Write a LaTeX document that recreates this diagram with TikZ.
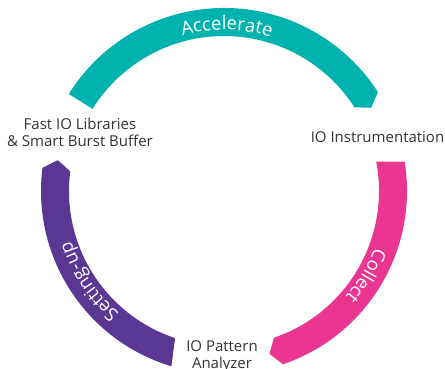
\documentclass[tikz,border=0pt]{standalone}
\usepackage{fontspec}
\setmainfont{Open Sans}
\usetikzlibrary{decorations.text}
\definecolor{tealc}{RGB}{0,178,174}
\definecolor{pinkc}{RGB}{234,54,145}
\definecolor{purplec}{RGB}{91,55,148}
\definecolor{textc}{RGB}{51,51,51}
\newcommand\lblfont{\fontsize{15}{17}\selectfont}
\newcommand\arcfont{\fontsize{18.5}{21}\selectfont}
\begin{document}
\begin{tikzpicture}[x=1pt, y=1pt, font=\lblfont, text=textc, line join=round]
\def\Ro{183} \def\Ri{155} \def\Rm{169} \def\Rt{161} % bán kính
\useasboundingbox (0,0) rectangle (445,-368);
\begin{scope}[shift={(224,-191)}]
% các cung mũi tên
\foreach \so/\si/\e/\c in {148/148/32.7/tealc, 9.2/10.9/-71.2/pinkc, -106.7/-108.4/-187.3/purplec}
  \fill[\c] (\so:\Ro) arc[start angle=\so, end angle=\e, radius=\Ro] -- ({\e-3.2}:\Rm)
    -- (\e:\Ri) arc[start angle=\e, end angle=\si, radius=\Ri] -- cycle;
\path[decorate, decoration={text along path, text align=center, text color=white, text={|\arcfont|Accelerate}}]
  (149:\Rt) arc[start angle=149, end angle=29, radius=\Rt];
\path[decorate, decoration={text along path, text align=center, text color=white, text={|\arcfont|Collect}}]
  (29.2:\Rt) arc[start angle=29.2, end angle=-90.8, radius=\Rt];
\path[decorate, decoration={text along path, text align=center, text color=white, text={|\arcfont|Setting-up}}]
  (-86.2:\Rt) arc[start angle=-86.2, end angle=-206.2, radius=\Rt];
\end{scope}
\node[inner sep=0, align=center] (fastio) at (80,-132.5) {Fast IO Libraries\\\& Smart Burst Buffer};
\node[inner sep=0, anchor=base] (instr) at (377.5,-142.3) {IO Instrumentation};
\node[inner sep=0, align=center, anchor=north] (pattern) at (222,-340) {IO Pattern\\Analyzer};
\end{tikzpicture}
\end{document}
